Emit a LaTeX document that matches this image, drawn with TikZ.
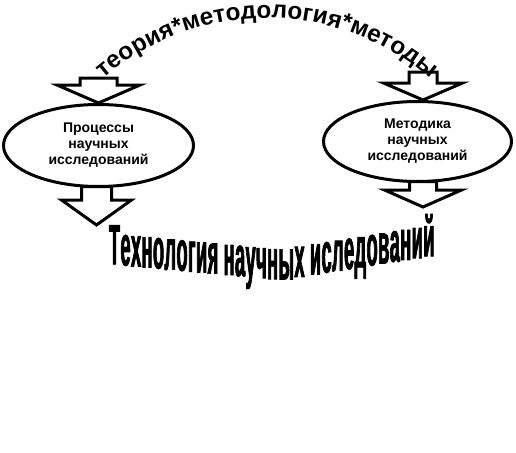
\documentclass[tikz,border=0pt]{standalone}
\usepackage{fontspec}
\setmainfont{Liberation Sans}
\newfontfamily\archfont{Liberation Sans}
\newfontfamily\wordartfont[FakeStretch=0.32,FakeBold=1.2]{Liberation Sans}
\usetikzlibrary{shapes.geometric,decorations.text,calc}

% hollow block arrow pointing down: #1 top centre, #2 head length,
% #3 half head width, #4 half stem width, #5 stem length
\newcommand{\blockdown}[5]{%
  \draw[blockarrow] ($(#1)+(-#4,0)$) -- ++(0,#5) -- ++(#4-#3,0) -- ++(#3,#2)
    -- ++(#3,-#2) -- ++(#4-#3,0) -- ++(0,-#5) -- cycle;}

\begin{document}
\begin{tikzpicture}[
    x=1pt, y=-1pt,
    research/.style={ellipse, draw, line width=3pt, inner sep=0pt, align=center,
                     font=\bfseries\fontsize{14}{16}\selectfont},
    blockarrow/.style={draw, fill=white, line width=3pt, line join=miter},
    archtext/.style={decorate, decoration={text along path, text align=center,
        text={|\archfont\bfseries\fontsize{24.3}{30}\selectfont|теория*методология*методы}}},
    waletter/.style={font=\wordartfont\bfseries\fontsize{57}{64}\selectfont,
                     inner sep=0pt, anchor=base west}
]
\useasboundingbox (0,0) rectangle (516,452);

\node[research, minimum width=190pt, minimum height=82pt] (proc) at (98.5,145.5) {Процессы\\научных\\исследований};
\node[research, minimum width=188pt, minimum height=80pt] (meth) at (417.5,141.5) {Методика\\научных\\исследований};

% arrows into and out of the ellipses
\coordinate (procin) at ($(proc.north)+(0,-25)$);
\coordinate (procout) at ($(proc.south)+(-2,-1.5)$);
\coordinate (methin) at ($(meth.north)+(5.5,-28)$);
\coordinate (methout) at ($(meth.south)+(5.5,-1.5)$);
\blockdown{procin}{18}{41.5}{18.5}{7}
\blockdown{procout}{25}{35}{15}{13.5}
\blockdown{methin}{17}{39.5}{14}{11}
\blockdown{methout}{17}{38.5}{13.5}{8.5}

% curved titles
\path[archtext] (267,268) ++(220:250) arc[start angle=220, end angle=320, radius=250];

% upright letters on a bent baseline (canvas y points up, hence the minus)
\node[inner sep=0pt] (wa0) at (108,265) {};
\foreach \ch [count=\i, remember=\i as \j (initially 0)] in
    {Т,е,х,н,о,л,о,г,и,я,{\kern4.5pt},н,а,у,ч,н,ы,х,{\kern4.5pt},и,с,л,е,д,о,в,а,н,и,й} {
  \path let \p1 = (wa\j.base east) in
    node[waletter] (wa\i) at ({\x1}, {-((\x1+5<280pt) ? 280-0.094*(280-\x1-5) : 280-0.16*(\x1+5-280))}) {\ch};
}
\end{tikzpicture}
\end{document}
